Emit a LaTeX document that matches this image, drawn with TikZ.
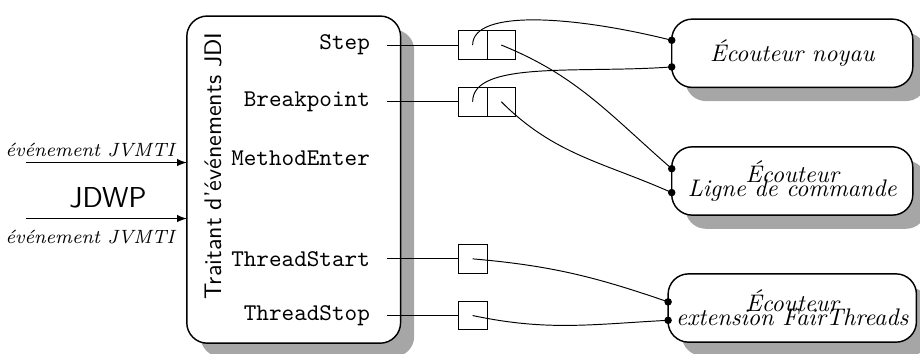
\documentclass[tikz,border=0pt]{standalone}
\usepackage{fontspec}
\usetikzlibrary{arrows,shapes,positioning,shadows}

\begin{document}
\begin{tikzpicture}[>=latex,
        ombre/.style={drop shadow={fill=black!35,opacity=1,shadow xshift=0.2cm,shadow yshift=-0.2cm}},
        evt/.style={anchor=east,font=\ttfamily},
        case/.style={draw,minimum size=0.42cm,inner sep=0pt,outer sep=0pt},
        ecouteur/.style={draw,semithick,fill=white,ombre,rounded corners=0.3cm,minimum width=3.53cm,minimum height=1cm,outer sep=0pt,align=center,font=\itshape},
        point/.style={circle,fill,inner sep=0pt,minimum size=0.11cm}]
            \useasboundingbox (0,0) rectangle (13.47,5.18);
            \node[draw,semithick,fill=white,ombre,rounded corners=0.3cm,minimum width=3.13cm,minimum height=4.79cm,outer sep=0pt] (traitant) at (4.30,2.55) {};
            \node[rotate=90,font=\sffamily] (titre) at (3.12,2.75) {Traitant d'événements JDI};
            \node[evt] (lstep) at (5.54,4.52) {Step};
            \node[evt] (lbreak) at (5.54,3.69) {Breakpoint};
            \node[evt] (lenter) at (5.54,2.87) {MethodEnter};
            \node[evt] (lstart) at (5.54,1.39) {ThreadStart};
            \node[evt] (lstop) at (5.54,0.56) {ThreadStop};
            \node[case] (sqstepa) at (6.92,4.52) {};
            \node[case,right=0pt of sqstepa] (sqstepb) {};
            \node[case] (sqbreaka) at (6.92,3.69) {};
            \node[case,right=0pt of sqbreaka] (sqbreakb) {};
            \node[case] (sqstart) at (6.92,1.39) {};
            \node[case] (sqstop) at (6.92,0.56) {};
            \node[ecouteur] (noyau) at (11.60,4.40) {Écouteur noyau};
            \node[ecouteur] (ligne) at (11.60,2.53) {Écouteur\\[-6pt]Ligne de commande};
            \node[ecouteur] (fair) at (11.60,0.67) {Écouteur\\[-6pt]extension FairThreads};
            \coordinate (noyau1) at ([yshift=0.19cm]noyau.west);
            \coordinate (noyau2) at ([yshift=-0.20cm]noyau.west);
            \coordinate (ligne1) at ([yshift=0.18cm]ligne.west);
            \coordinate (ligne2) at ([yshift=-0.17cm]ligne.west);
            \coordinate (fair1) at ([yshift=0.09cm]fair.west);
            \coordinate (fair2) at ([yshift=-0.18cm]fair.west);
            \draw ([xshift=0.13cm]lstep.east) -- (sqstepa.west);
            \draw ([xshift=0.13cm]lbreak.east) -- (sqbreaka.west);
            \draw ([xshift=0.13cm]lstart.east) -- (sqstart.west);
            \draw ([xshift=0.13cm]lstop.east) -- (sqstop.west);
            \draw (sqstepa.center) .. controls +(0,0.53) and +(-1.44,0.36) .. (noyau1);
            \draw (sqbreaka.center) .. controls +(0,0.61) and +(-1.34,-0.1) .. (noyau2);
            \draw (sqstepb.center) to[out=-22,in=139] (ligne1);
            \draw (sqbreakb.center) to[out=-45,in=156] (ligne2);
            \draw (sqstart.center) to[out=-5,in=161] (fair1);
            \draw (sqstop.center) to[out=-12,in=183] (fair2);
            \foreach \p in {noyau1,noyau2,ligne1,ligne2,fair1,fair2}
                \node[point] at (\p) {};
            \coordinate (jv1) at (0.38,2.80);
            \coordinate (jv2) at (0.38,1.98);
            \draw[->] (jv1) -- (jv1 -| traitant.west);
            \draw[->] (jv2) -- (jv2 -| traitant.west);
            \node[font=\footnotesize\itshape] (ev1) at (1.32,2.99) {événement JVMTI};
            \node[font=\footnotesize\itshape] (ev2) at (1.32,1.71) {événement JVMTI};
            \node[font=\large\sffamily] (jdwp) at (1.58,2.28) {JDWP};
        \end{tikzpicture}
\end{document}
